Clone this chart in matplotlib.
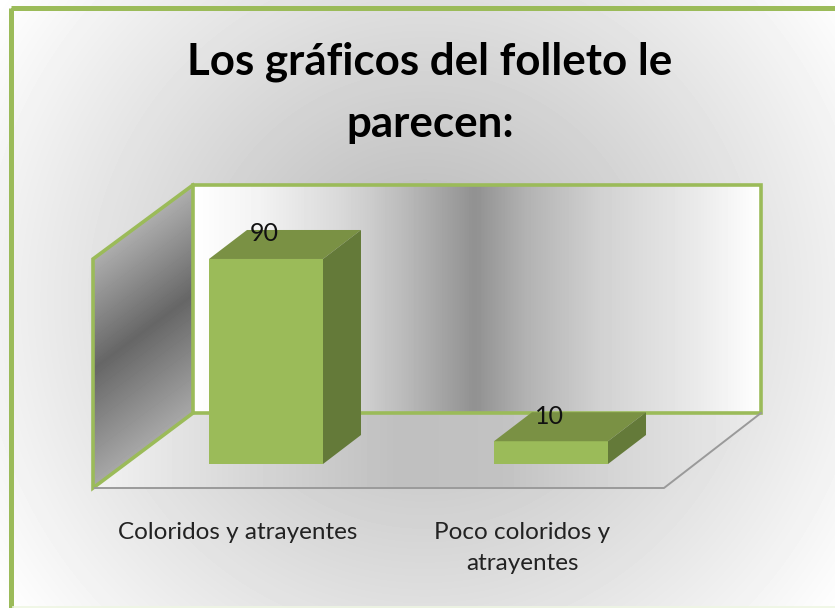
import numpy as np
import matplotlib
matplotlib.use('Agg')
import matplotlib.pyplot as plt
from matplotlib.patches import Polygon, Rectangle

categorias = ['Coloridos y atrayentes', 'Poco coloridos y\natrayentes']
valores = [90, 10]
titulo = 'Los gráficos del folleto le\nparecen:'

VERDE = '#9BBB59'
VERDE_TOP = '#7A9144'
VERDE_LADO = '#647A39'
W, H = 835, 608

plt.rcParams['font.family'] = ['Lato', 'DejaVu Sans']

fig = plt.figure(figsize=(W / 100, H / 100), dpi=100)

# fondo y paredes en coordenadas de pixel
bg = fig.add_axes([0, 0, 1, 1])
bg.set_xlim(0, W)
bg.set_ylim(H, 0)
bg.axis('off')

xx, yy = np.meshgrid(np.arange(W) + 0.5, np.arange(H) + 0.5)
dist = np.sqrt((xx - 425) ** 2 + (yy - 300) ** 2) / 520
fondo = np.clip(0.70 + 0.30 * dist, 0, 1)
bg.imshow(fondo, cmap='gray', vmin=0, vmax=1, extent=(0, W, H, 0), aspect='auto', zorder=0)


def relleno(puntos, gris, zorder=1):
    # imagen de gris recortada al poligono
    im = bg.imshow(gris, cmap='gray', vmin=0, vmax=1, extent=(0, W, H, 0), aspect='auto', zorder=zorder)
    im.set_clip_path(Polygon(puntos, closed=True, transform=bg.transData))


piso = [(93, 488), (664, 488), (761, 413), (193, 413)]
gris_piso = np.interp(xx, [93, 250, 400, 500, 620, 761], [0.95, 0.84, 0.75, 0.76, 0.84, 0.92])
relleno(piso, gris_piso)

pared = [(193, 185), (761, 185), (761, 413), (193, 413)]
gris_pared = np.interp(xx, [193, 260, 340, 370, 400, 474, 480, 527, 600, 700, 761],
                       [1.0, 0.95, 0.85, 0.80, 0.74, 0.57, 0.58, 0.70, 0.82, 0.92, 1.0])
relleno(pared, gris_pared)

lateral = [(93, 259), (193, 185), (193, 413), (93, 488)]
v = (yy - (259 - (xx - 93) * 0.74)) / 229
gris_lateral = np.interp(v, [0, 0.48, 1], [0.68, 0.40, 0.66])
relleno(lateral, gris_lateral)

# bordes
bg.add_patch(Polygon(pared, closed=True, fill=False, ec=VERDE, lw=2.6, zorder=2))
bg.plot([193, 93, 93, 193], [185, 259, 488, 413], color=VERDE, lw=2.6, zorder=2, solid_joinstyle='miter')
bg.plot([95, 664, 761], [488, 488, 413], color='#9a9a9a', lw=1.4, zorder=2)
bg.add_patch(Rectangle((11, 7.5), W - 11 + 10, H + 10, fill=False, ec=VERDE, lw=3.6, zorder=3))
bg.plot([13, W], [606.5, 606.5], color='#eef6e2', lw=1.2, zorder=3)

bg.text(430, 93, titulo, ha='center', va='center', fontsize=31.6, fontweight='bold',
        color='black', linespacing=1.67, zorder=4)

# barras: la escala va de valor a pixel
ax = fig.add_axes([123.5 / W, (H - 464) / H, 570 / W, 279 / H])
ax.patch.set_visible(False)
ax.set_xlim(-0.5, 1.5)
ax.set_ylim(0, 279 / 2.278)
for s in ax.spines.values():
    s.set_visible(False)
ax.set_yticks([])

idx = np.arange(len(valores))
ancho = 0.4
prof_x = 38 / 285
prof_y = 29 / 2.278

ax.bar(idx, valores, width=ancho, color=VERDE, zorder=3)
for i, val in zip(idx, valores):
    izq, der = i - ancho / 2, i + ancho / 2
    ax.add_patch(Polygon([(izq, val), (der, val), (der + prof_x, val + prof_y), (izq + prof_x, val + prof_y)],
                         closed=True, fc=VERDE_TOP, ec='none', zorder=3, clip_on=False))
    ax.add_patch(Polygon([(der, 0), (der + prof_x, prof_y), (der + prof_x, val + prof_y), (der, val)],
                         closed=True, fc=VERDE_LADO, ec='none', zorder=3, clip_on=False))
    ax.annotate(str(val), (i, val), xytext=(-1, 18), textcoords='offset points', ha='center', va='center',
                fontsize=18, color='#111111', zorder=5, annotation_clip=False)

ax.set_xticks(idx - 0.1)
ax.set_xticklabels(categorias, fontsize=17.5, color='#222222', linespacing=1.62)
ax.tick_params(axis='x', length=0, pad=41.5)

fig.savefig('out.png', dpi=100)
